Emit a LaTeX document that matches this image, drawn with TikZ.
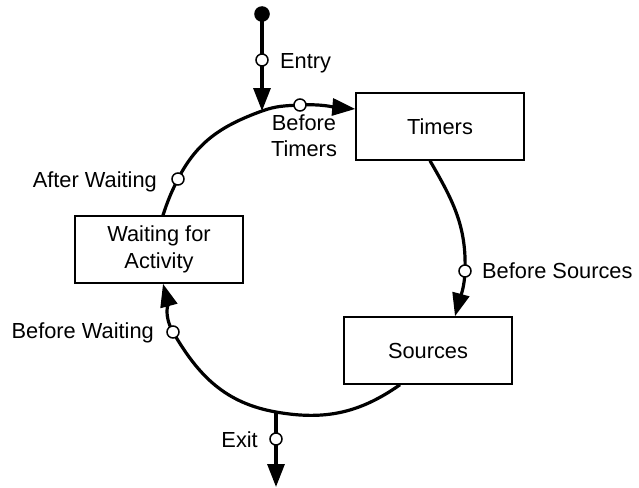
\documentclass[tikz,border=0pt]{standalone}
\usepackage{fontspec}
\setmainfont{Liberation Sans}
\usetikzlibrary{arrows.meta,backgrounds}
\begin{document}
\begin{tikzpicture}[x=1pt,y=1pt,
  font=\fontsize{21.8}{26}\selectfont,
  box/.style={draw, line width=1.5pt, minimum width=168pt, minimum height=67pt, align=center, inner sep=0pt},
  port/.style={circle, draw, fill=white, line width=1.5pt, minimum size=12pt, inner sep=0pt},
  flow/.style={line width=3.2pt},
  tip/.style={-{Triangle[length=23pt,width=17pt]}},
  lbl/.style={inner sep=0pt}]
\useasboundingbox (0,0) rectangle (639,-487);
% boxes
\node[box] (timers) at (440,-126.5) {Timers};
\node[box] (sources) at (428,-350.5) {Sources};
\node[box, font=\fontsize{21.8}{27}\selectfont] (wait) at (159,-249.5) {Waiting for\\Activity};
% start dot and ports
\node[circle, fill=black, minimum size=15.6pt, inner sep=0pt] (start) at (262,-14) {};
\node[port] (entry) at (262,-60) {};
\node[port] (bt) at (300,-105) {};
\node[port] (aw) at (178,-179) {};
\node[port] (bs) at (465,-271) {};
\node[port] (bw) at (173,-332) {};
\node[port] (exit) at (276,-439) {};
\coordinate (j1) at (262,-111);
\coordinate (j2) at (276,-412);
\coordinate (out) at (276,-487);
% labels
\node[lbl, anchor=base west] (lentry) at (280,-68) {Entry};
\node[lbl, align=center] (lbt) at (304,-136) {Before\\Timers};
\node[lbl, anchor=base east] (law) at (157,-187) {After Waiting};
\node[lbl, anchor=base west] (lbs) at (482,-278) {Before Sources};
\node[lbl, anchor=base east] (lbw) at (154,-338) {Before Waiting};
\node[lbl, anchor=base east] (lexit) at (258,-447) {Exit};
% connectors
\begin{pgfonlayer}{background}
\draw[flow,tip] (start.center) -- (j1);
\draw[flow,tip] ([xshift=4pt]wait.north) to[out=72,in=243] (aw.center)
  to[out=63,in=200] (j1) to[out=20,in=183] (bt.center)
  to[out=3,in=175] ([yshift=17.5pt]timers.west);
\draw[flow,tip] ([xshift=-10pt]timers.south) to[out=-60,in=88] (bs.center)
  to[out=-92,in=75] ([xshift=27pt]sources.north);
\draw[flow,tip] ([xshift=-28pt]sources.south) to[out=215,in=-10] (j2)
  to[out=170,in=-60] (bw.center) to[out=120,in=-75] ([xshift=4pt]wait.south);
\draw[flow,tip] (j2) -- (out);
\end{pgfonlayer}
\end{tikzpicture}
\end{document}
